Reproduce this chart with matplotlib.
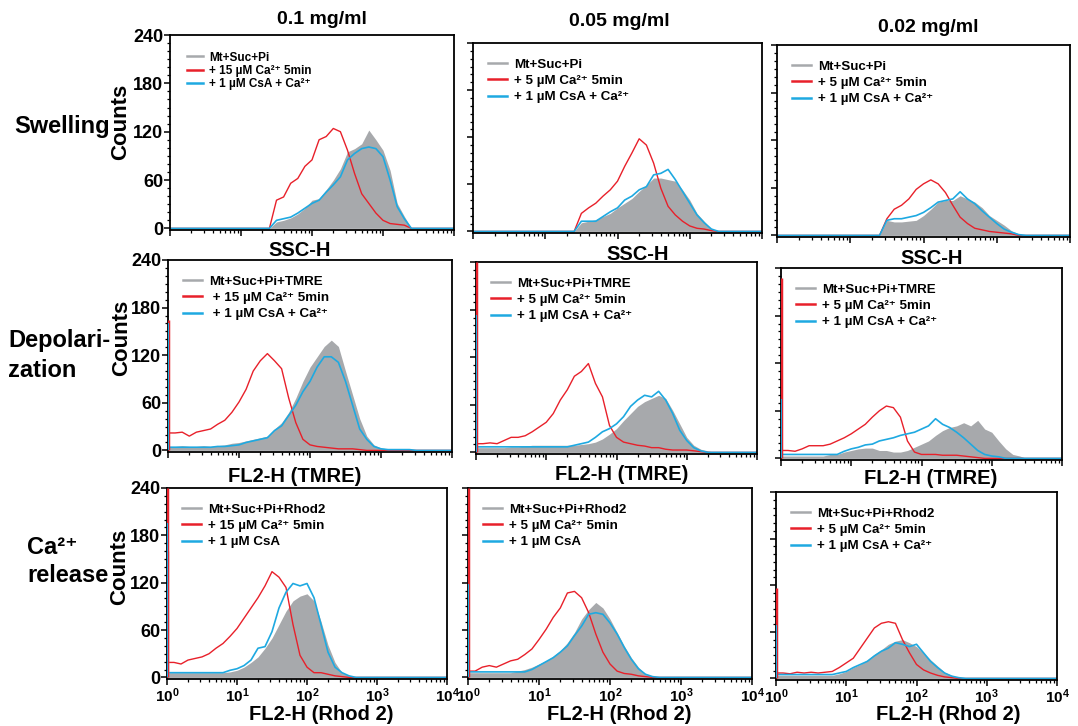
import matplotlib

matplotlib.use("Agg")
import matplotlib.pyplot as plt
import numpy as np
from matplotlib.lines import Line2D
from matplotlib.ticker import LogLocator, MultipleLocator, NullFormatter, FixedLocator

plt.rcParams["font.family"] = ["Liberation Sans", "DejaVu Sans"]
plt.rcParams["font.weight"] = "bold"
plt.rcParams["mathtext.fontset"] = "custom"
plt.rcParams["mathtext.rm"] = "Liberation Sans:bold"
plt.rcParams["mathtext.bf"] = "Liberation Sans:bold"
plt.rcParams["mathtext.it"] = "Liberation Sans:bold"

# colours
GRAY = "#a7a9ac"
RED = "#e8202a"
CYAN = "#1ea9e1"

FIG_W, FIG_H = 1078, 726

# channel positions (log10 of fluorescence / scatter), 0.1 decade apart
DECADES = [0.0, 0.1, 0.2, 0.3, 0.4, 0.5, 0.6, 0.7, 0.8, 0.9,
           1.0, 1.1, 1.2, 1.3, 1.4, 1.5, 1.6, 1.7, 1.8, 1.9,
           2.0, 2.1, 2.2, 2.3, 2.4, 2.5, 2.6, 2.7, 2.8, 2.9,
           3.0, 3.1, 3.2, 3.3, 3.4, 3.5, 3.6, 3.7, 3.8, 3.9, 4.0]

# ---- swelling (SSC-H) ----
SW_01_CTRL = [0, 0, 0, 0, 0, 0, 0, 0, 0, 0, 0, 0, 0, 0, 0,
              8, 10, 13, 18, 25, 35, 37, 48, 60, 74, 95, 99, 105, 122, 110,
              97, 72, 31, 15, 0, 0, 0, 0, 0, 0, 0]
SW_01_CA = [0, 0, 0, 0, 0, 0, 0, 0, 0, 0, 0, 0, 0, 0, 0,
            35, 39, 56, 62, 77, 85, 110, 114, 124, 120, 97, 68, 43, 31, 19,
            10, 6, 5, 4, 0, 0, 0, 0, 0, 0, 0]
SW_01_CSA = [0, 0, 0, 0, 0, 0, 0, 0, 0, 0, 0, 0, 0, 0, 0,
             10, 12, 14, 19, 25, 31, 35, 45, 54, 64, 85, 93, 99, 101, 99,
             89, 60, 27, 12, 0, 0, 0, 0, 0, 0, 0]

SW_005_CTRL = [0, 0, 0, 0, 0, 0, 0, 0, 0, 0, 0, 0, 0, 0, 0,
               11, 13, 15, 19, 23, 30, 36, 42, 51, 59, 68, 68, 66, 64, 53,
               40, 23, 13, 3, 0, 0, 0, 0, 0, 0, 0]
SW_005_CA = [0, 0, 0, 0, 0, 0, 0, 0, 0, 0, 0, 0, 0, 0, 0,
             23, 30, 36, 45, 53, 64, 83, 100, 118, 110, 87, 55, 32, 21, 13,
             7, 4, 3, 1, 0, 0, 0, 0, 0, 0, 0]
SW_005_CSA = [0, 0, 0, 0, 0, 0, 0, 0, 0, 0, 0, 0, 0, 0, 0,
              13, 13, 13, 19, 25, 30, 40, 45, 53, 57, 72, 74, 79, 66, 51,
              36, 21, 11, 3, 0, 0, 0, 0, 0, 0, 0]

SW_002_CTRL = [0, 0, 0, 0, 0, 0, 0, 0, 0, 0, 0, 0, 0, 0, 0,
               19, 17, 17, 18, 19, 25, 33, 42, 44, 44, 50, 46, 42, 35, 25,
               19, 13, 6, 2, 0, 0, 0, 0, 0, 0, 0]
SW_002_CA = [0, 0, 0, 0, 0, 0, 0, 0, 0, 0, 0, 0, 0, 0, 0,
             21, 33, 38, 46, 58, 65, 70, 65, 54, 38, 23, 15, 9, 7, 5,
             4, 3, 2, 0, 0, 0, 0, 0, 0, 0, 0]
SW_002_CSA = [0, 0, 0, 0, 0, 0, 0, 0, 0, 0, 0, 0, 0, 0, 0,
              19, 21, 21, 23, 25, 29, 35, 42, 44, 46, 55, 46, 40, 31, 23,
              15, 8, 4, 1, 0, 0, 0, 0, 0, 0, 0]

# ---- depolarization (FL2-H, TMRE) ----
DP_01_CTRL = [5, 5, 6, 5, 5, 6, 5, 6, 7, 9, 10, 12, 14, 16, 18,
              27, 35, 48, 66, 87, 105, 118, 131, 139, 131, 100, 70, 40, 18, 7,
              3, 2, 1, 1, 1, 0, 0, 0, 0, 0, 0]
DP_01_CA = [22, 22, 23, 18, 23, 25, 27, 33, 38, 48, 61, 77, 100, 113, 122,
            113, 103, 66, 35, 14, 7, 5, 4, 3, 2, 2, 2, 1, 0, 0,
            0, 0, 0, 0, 0, 0, 0, 0, 0, 0, 0]
DP_01_CSA = [4, 4, 4, 4, 4, 4, 4, 5, 5, 6, 7, 10, 12, 14, 16,
             25, 31, 44, 57, 74, 87, 105, 118, 118, 111, 87, 57, 27, 14, 5,
             2, 1, 1, 1, 1, 0, 0, 0, 0, 0, 0]

DP_005_CTRL = [6, 6, 6, 6, 6, 7, 7, 8, 9, 9, 9, 9, 9, 9, 9,
               10, 11, 13, 17, 23, 30, 40, 49, 58, 64, 68, 72, 68, 53, 36,
               19, 9, 4, 2, 0, 0, 0, 0, 0, 0, 0]
DP_005_CA = [11, 11, 12, 11, 15, 19, 19, 21, 26, 32, 38, 49, 66, 79, 96,
             102, 112, 87, 70, 34, 19, 13, 11, 9, 8, 6, 6, 4, 3, 3,
             3, 2, 1, 0, 0, 0, 0, 0, 0, 0, 0]
DP_005_CSA = [7, 7, 7, 7, 7, 7, 7, 7, 7, 7, 7, 7, 7, 7, 9,
              11, 13, 19, 26, 30, 36, 45, 58, 66, 72, 70, 77, 66, 49, 28,
              15, 6, 2, 0, 0, 0, 0, 0, 0, 0, 0]

DP_002_CTRL = [3, 3, 3, 3, 3, 3, 3, 5, 5, 8, 10, 12, 13, 13, 10,
               10, 8, 8, 10, 14, 18, 22, 29, 35, 39, 41, 45, 41, 48, 37,
               33, 22, 12, 5, 3, 0, 0, 0, 0, 0, 0]
DP_002_CA = [10, 10, 9, 12, 16, 16, 16, 18, 22, 26, 31, 37, 43, 52, 60,
             66, 64, 52, 22, 8, 5, 5, 5, 4, 4, 4, 3, 2, 1, 0,
             0, 0, 0, 0, 0, 0, 0, 0, 0, 0, 0]
DP_002_CSA = [5, 5, 5, 5, 5, 5, 5, 5, 5, 9, 12, 14, 17, 18, 22,
              24, 26, 29, 31, 33, 37, 41, 50, 43, 39, 33, 26, 18, 10, 5,
              3, 2, 0, 0, 0, 0, 0, 0, 0, 0, 0]

# ---- Ca2+ release (FL2-H, Rhod 2) ----
CR_01_CTRL = [6, 6, 6, 6, 6, 6, 6, 6, 6, 7, 9, 13, 19, 26, 37,
              50, 67, 84, 97, 103, 106, 97, 71, 41, 19, 6, 2, 0, 0, 0,
              0, 0, 0, 0, 0, 0, 0, 0, 0, 0, 0]
CR_01_CA = [19, 19, 17, 22, 24, 26, 30, 37, 43, 52, 62, 75, 88, 101, 116,
            134, 127, 114, 67, 28, 13, 6, 6, 4, 2, 1, 0, 0, 0, 0,
            0, 0, 0, 0, 0, 0, 0, 0, 0, 0, 0]
CR_01_CSA = [6, 6, 6, 6, 6, 6, 6, 6, 6, 9, 11, 15, 22, 37, 39,
             58, 88, 108, 119, 116, 119, 101, 67, 32, 13, 6, 2, 0, 0, 0,
             0, 0, 0, 0, 0, 0, 0, 0, 0, 0, 0]

CR_005_CTRL = [6, 6, 6, 6, 6, 6, 6, 8, 10, 13, 17, 21, 27, 34, 44,
               57, 74, 86, 95, 88, 74, 57, 40, 25, 13, 4, 1, 0, 0, 0,
               0, 0, 0, 0, 0, 0, 0, 0, 0, 0, 0]
CR_005_CA = [8, 8, 13, 15, 13, 17, 21, 23, 29, 36, 48, 61, 76, 88, 107,
             109, 101, 82, 55, 32, 17, 8, 5, 4, 2, 1, 0, 0, 0, 0,
             0, 0, 0, 0, 0, 0, 0, 0, 0, 0, 0]
CR_005_CSA = [7, 7, 7, 7, 7, 7, 7, 7, 7, 10, 15, 20, 25, 32, 40,
              53, 65, 80, 82, 80, 69, 55, 38, 23, 11, 4, 1, 0, 0, 0,
              0, 0, 0, 0, 0, 0, 0, 0, 0, 0, 0]

CR_002_CTRL = [4, 4, 4, 4, 4, 4, 4, 4, 4, 6, 9, 14, 18, 24, 31,
               37, 44, 48, 50, 46, 41, 33, 24, 16, 8, 4, 1, 0, 0, 0,
               0, 0, 0, 0, 0, 0, 0, 0, 0, 0, 0]
CR_002_CA = [7, 7, 6, 8, 7, 8, 7, 8, 9, 14, 20, 26, 39, 52, 65,
             71, 73, 71, 50, 33, 18, 11, 7, 4, 2, 1, 0, 0, 0, 0,
             0, 0, 0, 0, 0, 0, 0, 0, 0, 0, 0]
CR_002_CSA = [5, 5, 5, 5, 5, 5, 5, 5, 5, 7, 9, 14, 18, 22, 29,
              35, 39, 46, 44, 41, 44, 33, 22, 14, 7, 3, 1, 0, 0, 0,
              0, 0, 0, 0, 0, 0, 0, 0, 0, 0, 0]

# pile-up in the first channel (control, Ca2+, CsA)
DP_01_FIRST = [0, 165, 160]
DP_005_FIRST = [0, 240, 173]
DP_002_FIRST = [0, 228, 75]
CR_01_FIRST = [160, 240, 196]
CR_005_FIRST = [0, 240, 118]
CR_002_FIRST = [0, 116, 69]
NO_FIRST = [0, 0, 0]

CA = "Ca²⁺"
LEG_SW_15 = ["Mt+Suc+Pi", "+ 15 µM " + CA + " 5min", "+ 1 µM CsA + " + CA]
LEG_SW_5 = ["Mt+Suc+Pi", "+ 5 µM " + CA + " 5min", "+ 1 µM CsA + " + CA]
LEG_DP_15 = ["Mt+Suc+Pi+TMRE", " + 15 µM " + CA + " 5min", " + 1 µM CsA + " + CA]
LEG_DP_5 = ["Mt+Suc+Pi+TMRE", "+ 5 µM " + CA + " 5min", "+ 1 µM CsA + " + CA]
LEG_CR_15 = ["Mt+Suc+Pi+Rhod2", "+ 15 µM " + CA + " 5min", "+ 1 µM CsA"]
LEG_CR_5 = ["Mt+Suc+Pi+Rhod2", "+ 5 µM " + CA + " 5min", "+ 1 µM CsA"]
LEG_CR_5B = ["Mt+Suc+Pi+Rhod2", "+ 5 µM " + CA + " 5min", "+ 1 µM CsA + " + CA]

Y_TICKS = [0, 60, 120, 180, 240]
X_TICK_LABELS = [r"$\mathbf{10^{0}}$", r"$\mathbf{10^{1}}$", r"$\mathbf{10^{2}}$",
                 r"$\mathbf{10^{3}}$", r"$\mathbf{10^{4}}$"]

# panel boxes in pixels: left, top, right, bottom
PANELS = [
    [(170, 35, 454, 230), SW_01_CTRL, SW_01_CA, SW_01_CSA, NO_FIRST, LEG_SW_15],
    [(473, 43, 762, 233), SW_005_CTRL, SW_005_CA, SW_005_CSA, NO_FIRST, LEG_SW_5],
    [(777, 45, 1070, 237), SW_002_CTRL, SW_002_CA, SW_002_CSA, NO_FIRST, LEG_SW_5],
    [(168, 260, 452, 452), DP_01_CTRL, DP_01_CA, DP_01_CSA, DP_01_FIRST, LEG_DP_15],
    [(476, 262, 757, 454), DP_005_CTRL, DP_005_CA, DP_005_CSA, DP_005_FIRST, LEG_DP_5],
    [(781, 268, 1062, 460), DP_002_CTRL, DP_002_CA, DP_002_CSA, DP_002_FIRST, LEG_DP_5],
    [(167, 488, 447, 679), CR_01_CTRL, CR_01_CA, CR_01_CSA, CR_01_FIRST, LEG_CR_15],
    [(468, 488, 752, 679), CR_005_CTRL, CR_005_CA, CR_005_CSA, CR_005_FIRST, LEG_CR_5],
    [(776, 492, 1057, 680), CR_002_CTRL, CR_002_CA, CR_002_CSA, CR_002_FIRST, LEG_CR_5B],
]


def px_box(box):
    """convert a pixel box into figure fractions"""
    left, top, right, bottom = box
    return [left / FIG_W, 1 - bottom / FIG_H, (right - left) / FIG_W, (bottom - top) / FIG_H]


def fig_text(fig, x, y, s, **kw):
    """place text using pixel coordinates"""
    fig.text(x / FIG_W, 1 - y / FIG_H, s, fontweight="bold", **kw)


def draw_panel(fig, idx, spec):
    box, ctrl, ca, csa, first, labels = spec
    ax = fig.add_axes(px_box(box))
    x = 10 ** np.array(DECADES)

    ax.fill_between(x, 0, ctrl, color=GRAY, lw=0, zorder=1)
    ax.plot(x, ca, color=RED, lw=1.0, zorder=2)
    ax.plot(x, csa, color=CYAN, lw=1.2, zorder=2)

    # first-channel pile-up
    for val, col, lw in zip(first, [GRAY, RED, CYAN], [2.5, 2.5, 1.5]):
        if val > 0:
            ax.vlines(x[0], 0, val, color=col, lw=lw, zorder=3)

    ax.set_xscale("log")
    ax.set_xlim(1, 1e4)
    ax.set_ylim(-2, 240)

    ax.yaxis.set_major_locator(FixedLocator(Y_TICKS))
    ax.yaxis.set_minor_locator(MultipleLocator(10))
    ax.xaxis.set_major_locator(LogLocator(base=10, numticks=10))
    ax.xaxis.set_minor_locator(LogLocator(base=10, subs=np.arange(2, 10), numticks=20))
    ax.xaxis.set_minor_formatter(NullFormatter())

    ax.tick_params(which="major", direction="out", length=4, width=1.1)
    ax.tick_params(which="minor", direction="out", length=2.5, width=0.9)
    ax.tick_params(axis="y", pad=1)
    for sp in ax.spines.values():
        sp.set_linewidth(1.3)

    col = idx % 3
    row = idx // 3
    if col == 0:
        ax.set_yticklabels([str(t) for t in Y_TICKS], fontsize=13, fontweight="bold")
    else:
        ax.set_yticklabels([])
    if row == 2:
        ax.set_xticks([1, 10, 100, 1000, 10000])
        ax.set_xticklabels(X_TICK_LABELS, fontsize=11)
        ax.tick_params(axis="x", pad=1)
    else:
        ax.set_xticklabels([])

    # the first panel uses a smaller, tighter legend than the others
    if idx == 0:
        leg_size, leg_space, leg_pad = 8.5, 0.12, 1.0
    else:
        leg_size, leg_space, leg_pad = 9.6, 0.3, 0.75
    handles = [Line2D([], [], color=c, lw=1.8) for c in [GRAY, RED, CYAN]]
    ax.legend(handles, labels, loc="upper left", frameon=False,
              prop={"size": leg_size, "weight": "bold"}, handlelength=1.4,
              handletextpad=0.5, labelspacing=leg_space, borderaxespad=leg_pad,
              borderpad=0.4)
    return ax


def main():
    fig = plt.figure(figsize=(FIG_W / 100, FIG_H / 100), dpi=100)

    for i, spec in enumerate(PANELS):
        draw_panel(fig, i, spec)

    # column titles
    fig_text(fig, 322, 20, "0.1 mg/ml", fontsize=14, ha="center", va="center")
    fig_text(fig, 619, 22, "0.05 mg/ml", fontsize=14, ha="center", va="center")
    fig_text(fig, 928, 27, "0.02 mg/ml", fontsize=14, ha="center", va="center")

    # x-axis names
    for (x, y) in [(300, 250), (638, 254), (932, 259)]:
        fig_text(fig, x, y, "SSC-H", fontsize=14.5, ha="center", va="center")
    for (x, y) in [(295, 477), (622, 475), (931, 478)]:
        fig_text(fig, x, y, "FL2-H (TMRE)", fontsize=14.5, ha="center", va="center")
    for (x, y) in [(321, 714), (619, 714), (948, 715)]:
        fig_text(fig, x, y, "FL2-H (Rhod 2)", fontsize=14.5, ha="center", va="center")

    # y-axis names
    for (x, y) in [(121, 122), (122, 338), (120, 567)]:
        fig_text(fig, x, y, "Counts", fontsize=16, rotation=90, ha="center", va="center")

    # row names
    fig_text(fig, 14, 126, "Swelling", fontsize=17, ha="left", va="center")
    fig_text(fig, 8, 340, "Depolari-", fontsize=17, ha="left", va="center")
    fig_text(fig, 8, 370, "zation", fontsize=17, ha="left", va="center")
    fig_text(fig, 27, 548, CA, fontsize=17, ha="left", va="center")
    fig_text(fig, 27, 576, "release", fontsize=17, ha="left", va="center")

    fig.savefig("out.png", dpi=100)


if __name__ == "__main__":
    main()
